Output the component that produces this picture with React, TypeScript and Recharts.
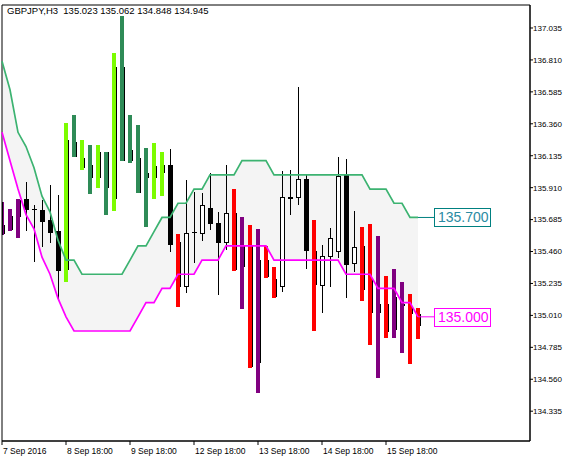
import React from "react";
import {
  ComposedChart,
  Area,
  Bar,
  Line,
  XAxis,
  YAxis,
  ReferenceArea,
  ReferenceLine,
} from "recharts";

// GBPJPY H3 bars
const opens = [
  135.65, 135.707, 135.707, 135.833, 135.763, 135.756, 135.685, 135.608, 135.334, 136.234,
  136.121, 136.072, 135.988, 136.163, 135.84, 136.761, 136.178, 136.121, 136.016, 135.988,
  136.023, 136.072, 135.524, 135.215, 135.601, 135.594, 135.77, 135.664, 135.524, 135.728,
  135.496, 135.496, 135.397, 135.397, 135.264, 135.215, 135.84, 135.847, 135.974, 135.461,
  135.222, 135.425, 135.461, 136.002, 135.376, 135.496, 135.264, 135.032, 135.088, 134.912,
  135.081, 135.067, 135.023,
];
const highs = [
  135.812, 135.763, 135.833, 135.953, 135.791, 135.826, 135.932, 135.861, 136.367, 136.424,
  136.248, 136.213, 136.213, 136.163, 136.859, 137.12, 136.424, 136.353, 136.192, 136.227,
  136.163, 136.185, 135.587, 135.967, 135.882, 135.875, 136.016, 135.735, 136.072, 135.903,
  135.7, 135.65, 135.622, 135.496, 135.348, 136.03, 136.037, 136.62, 136.002, 135.685,
  135.503, 135.629, 136.128, 136.114, 135.749, 135.636, 135.657, 135.566, 135.285, 135.334,
  135.243, 135.158, 135.062,
];
const lows = [
  135.587, 135.615, 135.566, 135.615, 135.39, 135.496, 135.524, 135.123, 135.257, 136.135,
  136.044, 135.875, 135.917, 135.728, 135.756, 136.107, 136.093, 135.882, 135.643, 135.84,
  135.861, 135.461, 135.081, 135.172, 135.383, 135.538, 135.622, 135.158, 135.475, 135.334,
  135.06, 134.652, 134.476, 135.278, 135.137, 135.179, 135.721, 135.798, 135.341, 134.912,
  135.032, 135.215, 135.418, 135.137, 135.32, 135.123, 134.814, 134.575, 134.856, 134.856,
  134.751, 134.673, 134.848,
];
const closes = [
  135.594, 135.622, 135.826, 135.763, 135.76, 135.678, 135.601, 135.327, 136.248, 136.135,
  136.058, 135.988, 136.163, 135.917, 136.761, 136.107, 136.107, 135.882, 135.988, 136.065,
  136.072, 135.51, 135.215, 135.594, 135.598, 135.791, 135.664, 135.524, 135.728, 135.334,
  135.355, 134.652, 134.68, 135.285, 135.144, 135.847, 135.847, 135.974, 135.468, 135.229,
  135.425, 135.552, 135.995, 135.369, 135.489, 135.194, 135.032, 135.088, 134.898, 135.137,
  135.088, 135.025, 134.945,
];
// indicator paint per bar: L lime, G sea green, R red, P purple, "" none
const paint = [
  "P", "P", "P", "", "", "", "", "", "L", "G",
  "L", "G", "L", "G", "L", "G", "G", "G", "G", "L",
  "L", "", "R", "", "", "", "", "", "", "R",
  "P", "R", "P", "R", "R", "", "", "", "", "R",
  "", "", "", "", "", "R", "R", "P", "R", "P",
  "P", "R", "R",
];
const upperBand = [
  136.8, 136.6, 136.3, 136.2, 136.05, 135.85, 135.74, 135.54, 135.4, 135.4,
  135.3, 135.3, 135.3, 135.3, 135.3, 135.3, 135.4, 135.5, 135.5, 135.6,
  135.7, 135.7, 135.8, 135.8, 135.9, 135.9, 136.0, 136.0, 136.0, 136.0,
  136.1, 136.1, 136.1, 136.1, 136.0, 136.0, 136.0, 136.0, 136.0, 136.0,
  136.0, 136.0, 136.0, 136.0, 136.0, 136.0, 135.9, 135.9, 135.9, 135.8,
  135.8, 135.7, 135.7,
];
const lowerBand = [
  136.3, 136.1, 135.9, 135.72, 135.62, 135.42, 135.3, 135.13, 135.0, 134.9,
  134.9, 134.9, 134.9, 134.9, 134.9, 134.9, 134.9, 135.0, 135.1, 135.1,
  135.2, 135.2, 135.3, 135.3, 135.3, 135.4, 135.4, 135.4, 135.5, 135.5,
  135.5, 135.5, 135.5, 135.5, 135.4, 135.4, 135.4, 135.4, 135.4, 135.4,
  135.4, 135.4, 135.4, 135.3, 135.3, 135.3, 135.3, 135.2, 135.2, 135.2,
  135.1, 135.1, 135.0,
];

const timeTicks = [0, 8, 16, 24, 32, 40, 48];
const timeLabels = [
  "7 Sep 2016",
  "8 Sep 18:00",
  "9 Sep 18:00",
  "12 Sep 18:00",
  "13 Sep 18:00",
  "14 Sep 18:00",
  "15 Sep 18:00",
];
const priceTicks = [
  134.335, 134.56, 134.785, 135.01, 135.235, 135.46, 135.685, 135.91, 136.135, 136.36,
  136.585, 136.81, 137.035,
];

const paintColors: Record<string, string> = {
  L: "#7CFC00",
  G: "#2E8B57",
  R: "#FF0000",
  P: "#800080",
};

const FONT = "'Liberation Sans', Arial, sans-serif";
const Y_MIN = 134.125;
const Y_MAX = 137.197;

const data = opens.map((open, i) => ({
  i,
  open,
  high: highs[i],
  low: lows[i],
  close: closes[i],
  paint: paint[i],
  range: [lows[i], highs[i]],
  upper: upperBand[i],
  lower: lowerBand[i],
  band: [lowerBand[i], upperBand[i]],
}));

const last = opens.length - 1;
const title = `GBPJPY,H3  ${opens[last].toFixed(3)} ${highs[last].toFixed(3)} ${lows[last].toFixed(3)} ${closes[last].toFixed(3)}`;

function Candle(props: any) {
  const { x, y, width, height, payload } = props;
  const { open, high, low, close } = payload;
  const top = Math.min(y, y + height);
  const h = Math.abs(height);
  const c = Math.round(x + width / 2);
  const py = (p: number) => (high === low ? top : top + ((high - p) / (high - low)) * h);
  const bodyTop = Math.round(py(Math.max(open, close)));
  const bodyBot = Math.round(py(Math.min(open, close)));
  const bull = close >= open;
  const color = paintColors[payload.paint];
  // the leftmost bar is cut by the chart frame
  const left = Math.max(c - 2, 3);

  return (
    <g shapeRendering="crispEdges">
      <line x1={c + 0.5} x2={c + 0.5} y1={Math.round(top)} y2={Math.round(top + h) + 1} stroke="#000" />
      {bodyBot - bodyTop < 1 ? (
        <line x1={left} x2={c + 3} y1={bodyTop + 0.5} y2={bodyTop + 0.5} stroke="#000" />
      ) : (
        <rect
          x={left + 0.5}
          y={bodyTop + 0.5}
          width={c + 2 - left}
          height={bodyBot - bodyTop}
          fill={bull ? "#fff" : "#000"}
          stroke="#000"
        />
      )}
      {color && (
        <rect x={left} y={Math.round(top)} width={c + 2 - left} height={Math.round(h) + 1} fill={color} />
      )}
    </g>
  );
}

function TimeTick(props: any) {
  const { x, y, payload } = props;
  const k = timeTicks.indexOf(payload.value);
  return (
    <text x={x + 1} y={y} dy={7} fontSize={8.5} fontFamily={FONT} fill="#000" textAnchor="start">
      {timeLabels[k]}
    </text>
  );
}

function priceTag(value: number, border: string, text: string) {
  return (props: any) => {
    const vb = props.viewBox || {};
    const bx = (vb.x || 0) + (vb.width || 0);
    const cy = vb.y || 0;
    return (
      <g>
        <rect x={bx + 0.5} y={Math.round(cy) - 8.5} width={56} height={18} fill="#fff" stroke={border} />
        <text x={bx + 4} y={Math.round(cy) + 5} fontSize={14} fontFamily={FONT} fill={text}>
          {value.toFixed(3)}
        </text>
      </g>
    );
  };
}

export default function App() {
  return (
    <div style={{ position: "absolute", left: 0, top: 0, width: 582, height: 461, background: "#fff" }}>
      <ComposedChart
        width={582}
        height={461}
        data={data}
        margin={{ top: 5, right: 0, bottom: 0, left: 2 }}
      >
        <XAxis
          dataKey="i"
          type="number"
          domain={[0, 66]}
          ticks={timeTicks}
          interval={0}
          tick={<TimeTick />}
          tickSize={4}
          height={20}
          axisLine={{ stroke: "#000" }}
          tickLine={{ stroke: "#000" }}
          allowDecimals={false}
        />
        <YAxis
          orientation="right"
          domain={[Y_MIN, Y_MAX]}
          ticks={priceTicks}
          interval={0}
          tickFormatter={(v: number) => v.toFixed(3)}
          tick={{ fontSize: 8, fill: "#000", fontFamily: FONT }}
          tickSize={3}
          tickMargin={0}
          width={52}
          axisLine={{ stroke: "#000" }}
          tickLine={{ stroke: "#000" }}
          allowDataOverflow
        />
        <Area
          type="linear"
          dataKey="band"
          fill="#F4F4F4"
          fillOpacity={1}
          stroke="none"
          isAnimationActive={false}
        />
        <Bar dataKey="range" barSize={5} shape={<Candle />} isAnimationActive={false} />
        <Line
          type="linear"
          dataKey="upper"
          stroke="#3CB371"
          strokeWidth={1.7}
          dot={false}
          isAnimationActive={false}
        />
        <Line
          type="linear"
          dataKey="lower"
          stroke="#FF00FF"
          strokeWidth={1.7}
          dot={false}
          isAnimationActive={false}
        />
        <ReferenceLine
          segment={[
            { x: last, y: upperBand[last] },
            { x: last + 2, y: upperBand[last] },
          ]}
          stroke="#008080"
          label={{ content: priceTag(upperBand[last], "#008080", "#2B8BA3") }}
        />
        <ReferenceLine
          segment={[
            { x: last, y: lowerBand[last] },
            { x: last + 2, y: lowerBand[last] },
          ]}
          stroke="#FF00FF"
          label={{ content: priceTag(lowerBand[last], "#FF00FF", "#FF00FF") }}
        />
        <ReferenceArea
          x1={0}
          x2={66}
          y1={Y_MIN}
          y2={Y_MAX}
          fill="none"
          stroke="#000"
          label={{
            content: (p: any) => (
              <text
                x={(p.viewBox?.x || 0) + 5}
                y={(p.viewBox?.y || 0) + 9}
                fontSize={9.5}
                fontFamily={FONT}
                fill="#000"
                xmlSpace="preserve"
              >
                {title}
              </text>
            ),
          }}
        />
      </ComposedChart>
    </div>
  );
}
